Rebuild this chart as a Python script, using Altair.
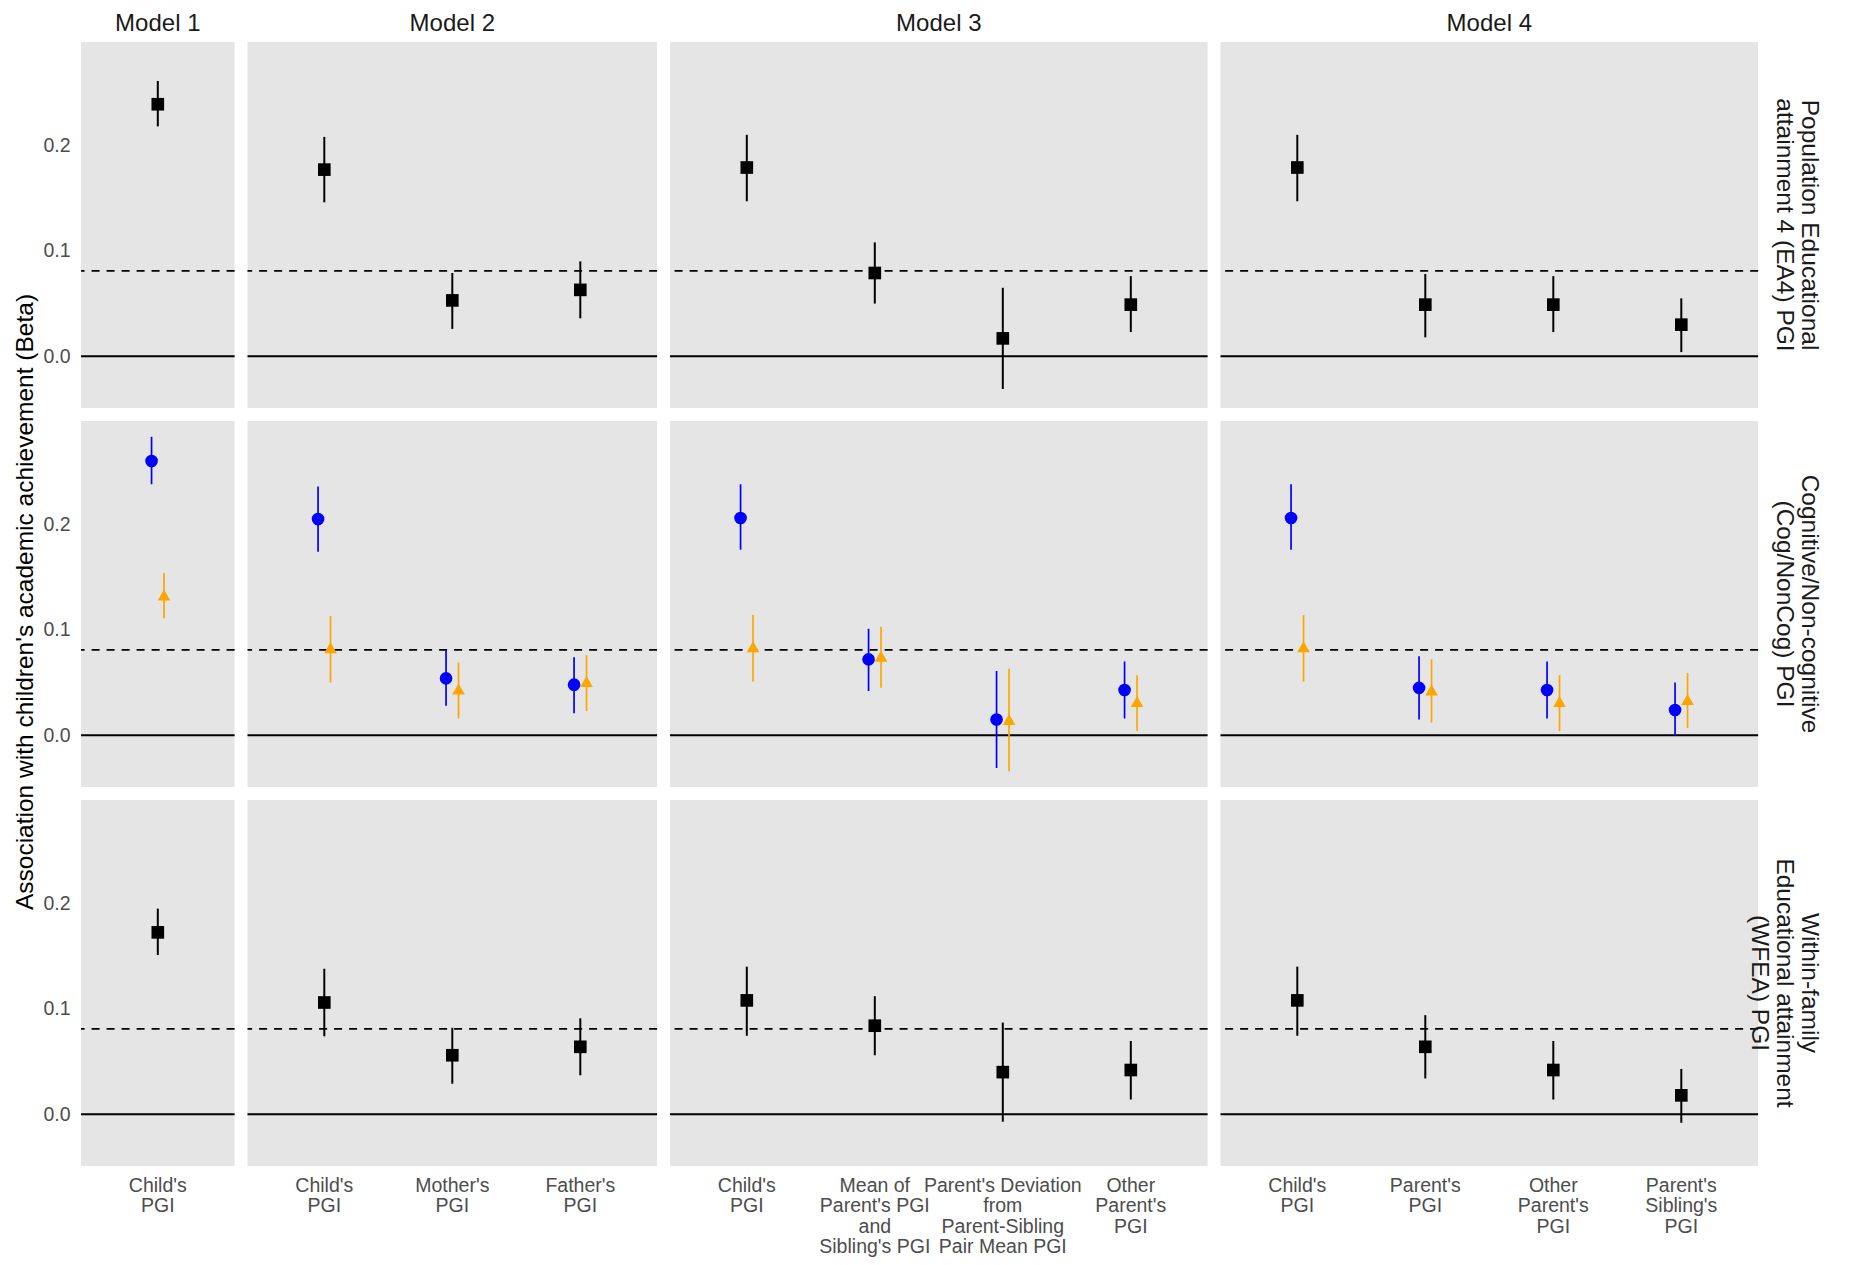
import altair as alt
import pandas as pd

# ---------------- data ----------------
models = ["Model 1", "Model 2", "Model 3", "Model 4"]

slot_model = ["Model 1",
              "Model 2", "Model 2", "Model 2",
              "Model 3", "Model 3", "Model 3", "Model 3",
              "Model 4", "Model 4", "Model 4", "Model 4"]
slot_label = ["Child's\nPGI",
              "Child's\nPGI", "Mother's\nPGI", "Father's\nPGI",
              "Child's\nPGI", "Mean of\nParent's PGI\nand\nSibling's PGI",
              "Parent's Deviation\nfrom\nParent-Sibling\nPair Mean PGI", "Other\nParent's\nPGI",
              "Child's\nPGI", "Parent's\nPGI", "Other\nParent's\nPGI", "Parent's\nSibling's\nPGI"]

ea4_est = [0.239, 0.177, 0.053, 0.063, 0.179, 0.079, 0.017, 0.049, 0.179, 0.049, 0.049, 0.030]
ea4_lo = [0.218, 0.146, 0.026, 0.036, 0.147, 0.050, -0.031, 0.023, 0.147, 0.018, 0.023, 0.004]
ea4_hi = [0.261, 0.208, 0.079, 0.090, 0.210, 0.108, 0.065, 0.076, 0.210, 0.078, 0.076, 0.055]

cog_est = [0.260, 0.205, 0.054, 0.048, 0.206, 0.072, 0.015, 0.043, 0.206, 0.045, 0.043, 0.024]
cog_lo = [0.238, 0.174, 0.028, 0.021, 0.176, 0.042, -0.031, 0.016, 0.176, 0.015, 0.016, 0.000]
cog_hi = [0.283, 0.236, 0.081, 0.074, 0.238, 0.101, 0.061, 0.070, 0.238, 0.075, 0.070, 0.050]

noncog_est = [0.133, 0.083, 0.044, 0.051, 0.084, 0.075, 0.015, 0.032, 0.084, 0.043, 0.032, 0.034]
noncog_lo = [0.111, 0.050, 0.016, 0.023, 0.051, 0.045, -0.034, 0.004, 0.051, 0.012, 0.004, 0.007]
noncog_hi = [0.154, 0.113, 0.069, 0.076, 0.114, 0.103, 0.063, 0.057, 0.114, 0.072, 0.057, 0.059]

wfea_est = [0.1725, 0.106, 0.056, 0.064, 0.108, 0.084, 0.040, 0.042, 0.108, 0.064, 0.042, 0.018]
wfea_lo = [0.151, 0.074, 0.029, 0.037, 0.0745, 0.056, -0.007, 0.014, 0.0745, 0.034, 0.014, -0.008]
wfea_hi = [0.195, 0.138, 0.082, 0.091, 0.140, 0.112, 0.087, 0.0695, 0.140, 0.094, 0.0695, 0.043]

row_keys = ["EA4", "CogNonCog", "WFEA"]
row_titles = ["Population Educational\nattainment 4 (EA4) PGI",
              "Cognitive/Non-cognitive\n(Cog/NonCog) PGI",
              "Within-family\nEducational attainment\n(WFEA) PGI"]

series_names = ["EA4", "WFEA", "Cog", "NonCog"]
series_colors = ["black", "black", "#0000FF", "#FFA500"]
series_shapes = ["square", "square", "circle", "triangle-up"]
series_sizes = [160, 160, 125, 240]

ref_values = [0.0, 0.081]
y_ticks = [0.0, 0.1, 0.2]
y_title = "Association with children's academic achievement (Beta)"

# ---------------- build table ----------------
series_data = {
    "EA4": ("EA4", ea4_est, ea4_lo, ea4_hi),
    "Cog": ("CogNonCog", cog_est, cog_lo, cog_hi),
    "NonCog": ("CogNonCog", noncog_est, noncog_lo, noncog_hi),
    "WFEA": ("WFEA", wfea_est, wfea_lo, wfea_hi),
}
records = []
for s, (row, est, lo, hi) in series_data.items():
    for i in range(len(slot_model)):
        records.append(dict(row=row, series=s, model=slot_model[i], label=slot_label[i],
                            est=est[i], lo=lo[i], hi=hi[i]))
df = pd.DataFrame(records)

# ---------------- layout ----------------
UNIT = 128.0
PANEL_H = 366
yscale = alt.Scale(domain=[-0.049, 0.298], nice=False, zero=False)
FONT = "Liberation Sans, Arial, sans-serif"


def model_cats(m):
    out = []
    for mm, lab in zip(slot_model, slot_label):
        if mm == m and lab not in out:
            out.append(lab)
    return out


def panel(row_idx, col_idx):
    row = row_keys[row_idx]
    m = models[col_idx]
    cats = model_cats(m)
    w = (len(cats) + 0.2) * UNIT
    sub = df[(df.row == row) & (df.model == m)]
    dodge = row == "CogNonCog"

    if row_idx == 2:
        xaxis = alt.Axis(labelExpr="split(datum.label, '\\n')", labelAngle=0, ticks=False,
                         domain=False, grid=False, labelFontSize=19.5, labelColor="#4D4D4D",
                         labelLineHeight=20.5, labelPadding=10, labelLimit=400,
                         labelOverlap=False, labelFont=FONT, title=None)
    else:
        xaxis = None
    if col_idx == 0:
        yaxis = alt.Axis(values=y_ticks, format=".1f", ticks=False, domain=False, grid=False,
                         labelFontSize=19.5, labelColor="#4D4D4D", labelPadding=11,
                         labelFont=FONT, title=None)
    else:
        yaxis = None

    xenc = alt.X("label:N", sort=cats,
                 scale=alt.Scale(type="band", paddingInner=0.805, paddingOuter=0.5025),
                 axis=xaxis, title=None)
    color = alt.Color("series:N", scale=alt.Scale(domain=series_names, range=series_colors), legend=None)
    shape = alt.Shape("series:N", scale=alt.Scale(domain=series_names, range=series_shapes), legend=None)
    size = alt.Size("series:N", scale=alt.Scale(domain=series_names, range=series_sizes), legend=None)

    ref = pd.DataFrame({"v": ref_values, "kind": ["zero", "ref"]})
    zero = alt.Chart(ref[ref.kind == "zero"]).mark_rule(color="black", strokeWidth=2).encode(
        y=alt.Y("v:Q", scale=yscale, axis=yaxis, title=None))
    dashed = alt.Chart(ref[ref.kind == "ref"]).mark_rule(
        color="black", strokeWidth=1.8, strokeDash=[8, 7]).encode(
        y=alt.Y("v:Q", scale=yscale, axis=yaxis, title=None))

    enc_common = dict(x=xenc, color=color)
    if dodge:
        enc_common["xOffset"] = alt.XOffset("series:N", sort=["Cog", "NonCog"],
                                            scale=alt.Scale(domain=["Cog", "NonCog"]))
    bars = alt.Chart(sub).mark_rule(strokeWidth=1.7 if dodge else 2).encode(
        y=alt.Y("lo:Q", scale=yscale, axis=yaxis, title=None), y2="hi:Q", **enc_common)
    pts = alt.Chart(sub).mark_point(filled=True, opacity=1).encode(
        y=alt.Y("est:Q", scale=yscale, axis=yaxis, title=None), shape=shape, size=size, **enc_common)

    layers = [zero, dashed, bars, pts]
    if row_idx == 0:
        layers.append(alt.Chart(pd.DataFrame({"t": [m]})).mark_text(
            fontSize=24, color="#1A1A1A", align="center", baseline="middle", font=FONT).encode(
            text="t:N", x=alt.value(w / 2), y=alt.value(-18)))
    if col_idx == 3:
        layers.append(alt.Chart(pd.DataFrame({"t": [row_titles[row_idx]]})).mark_text(
            fontSize=24.5, color="#1A1A1A", align="center", baseline="middle", angle=90,
            lineBreak="\n", lineHeight=25, font=FONT).encode(
            text="t:N", x=alt.value(w + 51), y=alt.value(PANEL_H / 2)))
    if col_idx == 0 and row_idx == 1:
        layers.append(alt.Chart(pd.DataFrame({"t": [y_title]})).mark_text(
            fontSize=24.5, color="black", align="center", baseline="middle", angle=270,
            font=FONT).encode(
            text="t:N", x=alt.value(-55), y=alt.value(PANEL_H / 2 - 2)))

    return alt.layer(*layers).properties(width=w, height=PANEL_H)


panels = [panel(r, c) for r in range(3) for c in range(4)]

chart = alt.concat(*panels, columns=4, spacing={"row": 13, "column": 12.5}, bounds="flush").resolve_scale(
    x="independent", xOffset="independent"
).properties(
    padding={"left": 4, "top": 4, "right": 10, "bottom": 10}
).configure(font=FONT).configure_view(stroke=None, fill="#E5E5E5")

chart.save("out.html", embed_options={"renderer": "svg", "actions": False})
